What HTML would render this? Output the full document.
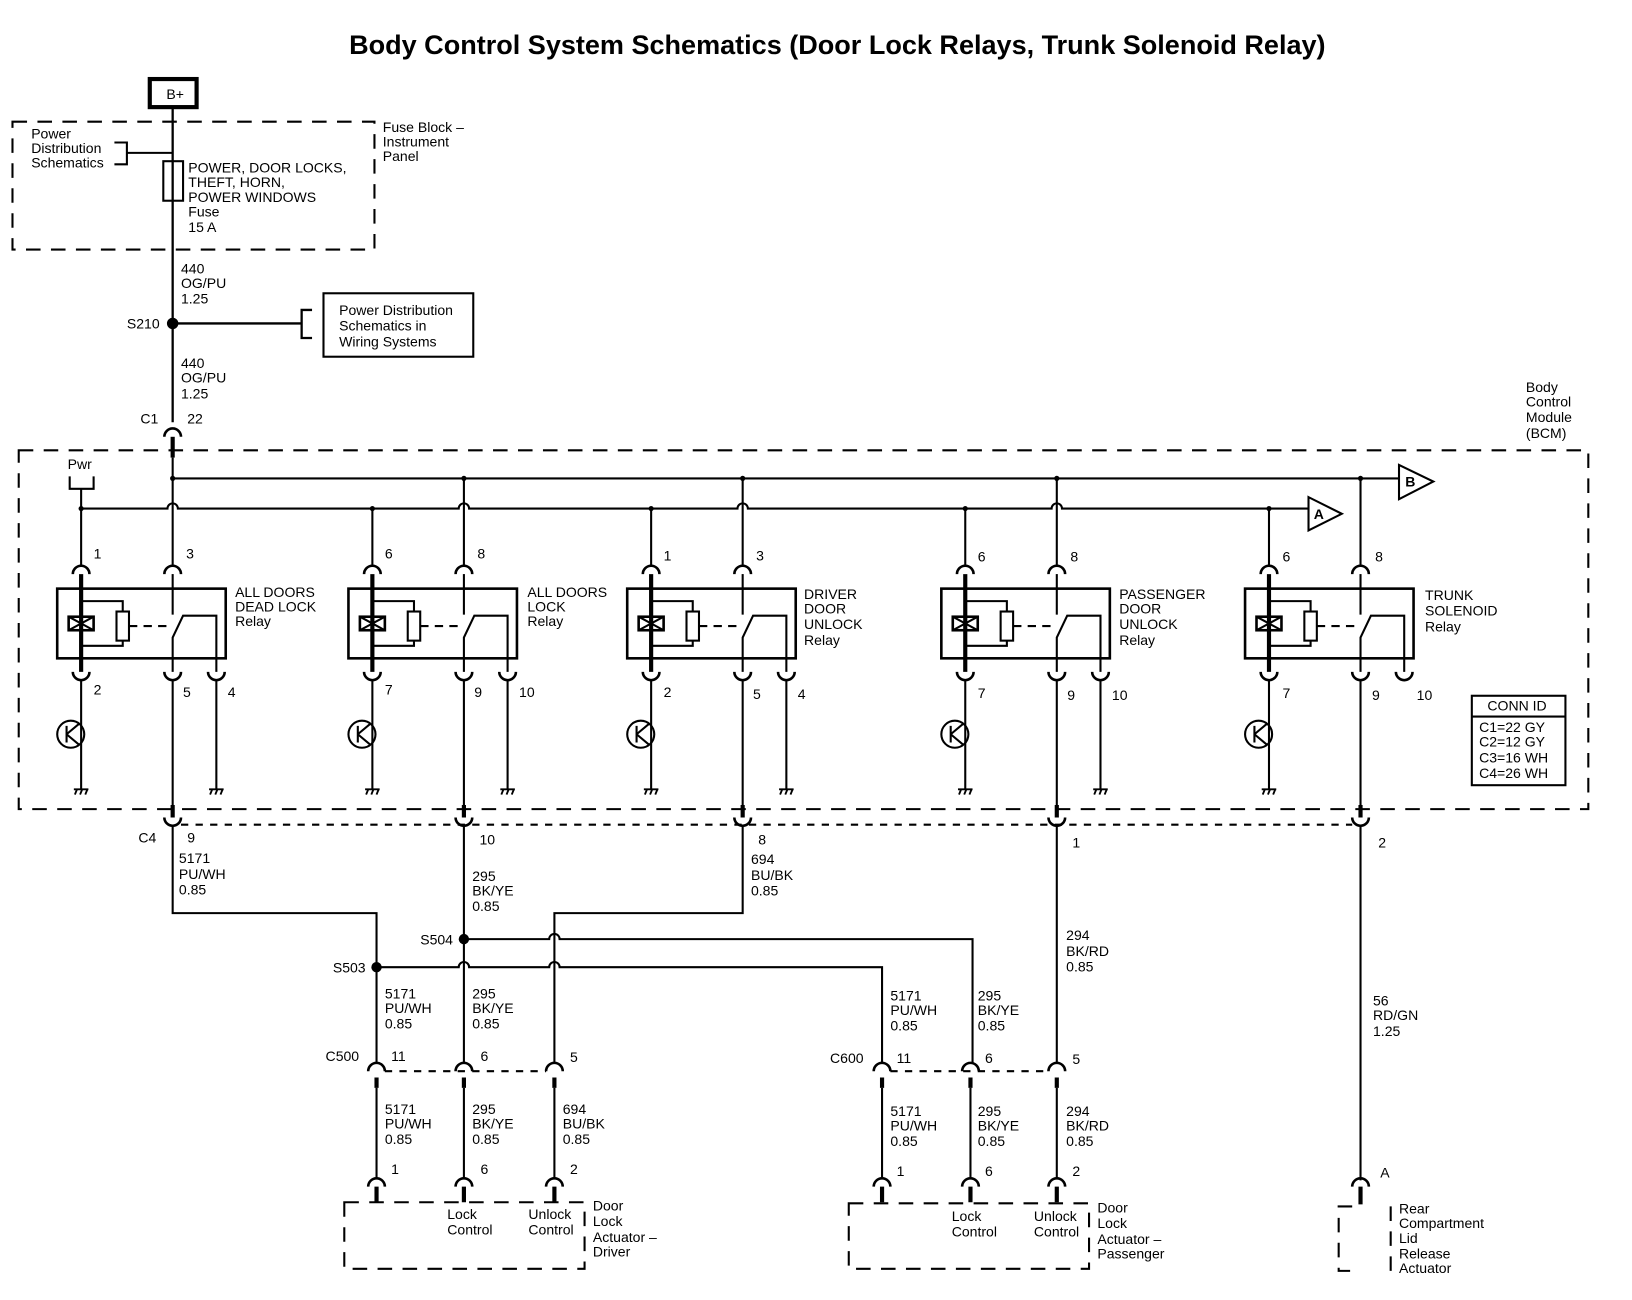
<!DOCTYPE html>
<html><head><meta charset="utf-8"><style>
html,body{margin:0;padding:0;background:#fff;}
svg{display:block;}
text{font-family:"Liberation Sans",Arial,sans-serif;font-size:13.5px;fill:#000;}
.t{font-size:13.5px;}
</style></head><body>
<svg width="1632" height="1300" viewBox="0 0 1569 1250" preserveAspectRatio="none" xmlns="http://www.w3.org/2000/svg">
<defs>
<g id="relay" fill="none" stroke="#000">
  <rect x="-23" y="0" width="162" height="67" stroke-width="2.5"/>
  <path d="M-8 -14 A8 8 0 0 1 8 -14" stroke-width="2.5"/>
  <path d="M80 -14 A8 8 0 0 1 96 -14" stroke-width="2.5"/>
  <line x1="0" y1="-14" x2="0" y2="80" stroke-width="4"/>
  <path d="M0 12 H40 V22 M0 55 H40 V50" stroke-width="2"/>
  <rect x="34" y="22" width="12" height="28" stroke-width="2"/>
  <rect x="-12" y="27" width="24" height="13" stroke-width="2.5"/>
  <path d="M-12 27 L12 40 M-12 40 L12 27" stroke-width="2"/>
  <line x1="46" y1="36" x2="82" y2="36" stroke-width="2" stroke-dasharray="8,6"/>
  <path d="M88 -14 V25" stroke-width="2"/>
  <path d="M88 80 V47 L98 26 H130 V80" stroke-width="2"/>
  <path d="M-8 80 A8 8 0 0 0 8 80" stroke-width="2.5"/>
  <path d="M80 80 A8 8 0 0 0 96 80" stroke-width="2.5"/>
  <path d="M122 80 A8 8 0 0 0 138 80" stroke-width="2.5"/>
  <line x1="0" y1="88" x2="0" y2="193" stroke-width="2"/>
  <circle cx="-10" cy="140" r="13" stroke-width="2"/>
  <path d="M-14 132 V148 M-14 140 L-2 130 M-14 140 L-2 150" stroke-width="2"/>
  <path d="M-7 193 H7 M-6 198 L-4 193 M-1 198 L1 193 M4 198 L6 193" stroke-width="1.8"/>
</g>
<g id="gnd" fill="none" stroke="#000" stroke-width="1.8">
  <path d="M-7 0 H7 M-6 5 L-4 0 M-1 5 L1 0 M4 5 L6 0"/>
</g>
</defs>

<text x="805" y="52" text-anchor="middle" style="font-size:26px;font-weight:bold">Body Control System Schematics (Door Lock Relays, Trunk Solenoid Relay)</text>

<g fill="none" stroke="#000">
<rect x="144" y="76" width="45" height="27" stroke-width="4"/>
<rect x="12" y="117" width="348" height="123" stroke-width="2" stroke-dasharray="14,10"/>
<line x1="166" y1="103" x2="166" y2="406" stroke-width="2.2"/>
<path d="M110 137 H122 V158 H110 M122 147 H166" stroke-width="2"/>
<rect x="157" y="155" width="19" height="38" stroke-width="2"/>
<circle cx="166" cy="311" r="5" fill="#000"/>
<path d="M166 311 H290 M300 298 H290 V325 H300" stroke-width="2.2"/>
<rect x="311" y="282" width="144" height="61" stroke-width="2"/>
<path d="M158 420 A8 8 0 0 1 174 420" stroke-width="2.5"/>
<line x1="166" y1="420" x2="166" y2="440" stroke-width="4"/>
<rect x="18" y="433" width="1509" height="345" stroke-width="2" stroke-dasharray="14,10"/>
<path d="M67 458 V470 H90 V458 M78 470 V544" stroke-width="2"/>
<line x1="166" y1="460" x2="1345" y2="460" stroke-width="2"/>
<polygon points="1345,447 1378,463 1345,480" stroke-width="2"/>
<path d="M78 489 H161 A5 5 0 0 1 171 489 H441 A5 5 0 0 1 451 489 H709 A5 5 0 0 1 719 489 H1011 A5 5 0 0 1 1021 489 H1258" stroke-width="2"/>
<polygon points="1258,478 1290,494 1258,510" stroke-width="2"/>
<path d="M166 440 V544 M446 460 V544 M714 460 V544 M1016 460 V544 M1308 460 V544" stroke-width="2"/>
<path d="M358 489 V544 M626 489 V544 M928 489 V544 M1220 489 V544" stroke-width="2"/>
</g>
<g fill="#000">
<circle cx="166" cy="460" r="2.5"/><circle cx="446" cy="460" r="2.5"/><circle cx="714" cy="460" r="2.5"/><circle cx="1016" cy="460" r="2.5"/><circle cx="1308" cy="460" r="2.5"/>
<circle cx="78" cy="489" r="2.5"/><circle cx="358" cy="489" r="2.5"/><circle cx="626" cy="489" r="2.5"/><circle cx="928" cy="489" r="2.5"/><circle cx="1220" cy="489" r="2.5"/>
</g>

<use href="#relay" x="78" y="566"/>
<use href="#relay" x="358" y="566"/>
<use href="#relay" x="626" y="566"/>
<use href="#relay" x="928" y="566"/>
<use href="#relay" x="1220" y="566"/>

<g fill="none" stroke="#000" stroke-width="2">
<path d="M208 654 V759 M488 654 V759 M756 654 V759 M1058 654 V759"/>
<path d="M166 654 V780 M446 654 V780 M714 654 V780 M1016 654 V780 M1308 654 V780"/>
<path d="M166 774 V786 M446 774 V786 M714 774 V786 M1016 774 V786 M1308 774 V786" stroke-width="4"/>
<path d="M158 786 A8 8 0 0 0 174 786 M438 786 A8 8 0 0 0 454 786 M706 786 A8 8 0 0 0 722 786 M1008 786 A8 8 0 0 0 1024 786 M1300 786 A8 8 0 0 0 1316 786" stroke-width="2.5"/>
<line x1="174" y1="793" x2="1300" y2="793" stroke-dasharray="7,7"/>
<path d="M166 794 V878 H362 V1022"/>
<path d="M446 794 V1022"/>
<path d="M714 794 V878 H533 V1022"/>
<path d="M446 903 H528 A5 5 0 0 1 538 903 H935 V1022"/>
<path d="M362 930 H441 A5 5 0 0 1 451 930 H528 A5 5 0 0 1 538 930 H848 V1022"/>
<path d="M1016 794 V1022"/>
<path d="M1308 794 V1135"/>
<path d="M354 1030 A8 8 0 0 1 370 1030 M438 1030 A8 8 0 0 1 454 1030 M525 1030 A8 8 0 0 1 541 1030 M840 1030 A8 8 0 0 1 856 1030 M925 1030 A8 8 0 0 1 941 1030 M1008 1030 A8 8 0 0 1 1024 1030" stroke-width="2.5"/>
<line x1="370" y1="1030" x2="525" y2="1030" stroke-dasharray="7,7"/>
<line x1="856" y1="1030" x2="1008" y2="1030" stroke-dasharray="7,7"/>
<path d="M362 1036 V1046 M446 1036 V1046 M533 1036 V1046 M848 1036 V1046 M933 1036 V1046 M1016 1036 V1046" stroke-width="4"/>
<path d="M362 1046 V1133 M446 1046 V1133 M533 1046 V1133 M848 1046 V1133 M933 1046 V1133 M1016 1046 V1133"/>
<path d="M354 1141 A8 8 0 0 1 370 1141 M438 1141 A8 8 0 0 1 454 1141 M525 1141 A8 8 0 0 1 541 1141 M840 1141 A8 8 0 0 1 856 1141 M925 1141 A8 8 0 0 1 941 1141 M1008 1141 A8 8 0 0 1 1024 1141 M1300 1141 A8 8 0 0 1 1316 1141" stroke-width="2.5"/>
<path d="M362 1141 V1156 M446 1141 V1156 M533 1141 V1156 M848 1141 V1156 M933 1141 V1156 M1016 1141 V1156 M1308 1141 V1158" stroke-width="4"/>
<rect x="331" y="1156" width="231" height="64" stroke-width="2" stroke-dasharray="14,10"/>
<rect x="816" y="1157" width="231" height="63" stroke-width="2" stroke-dasharray="14,10"/>
<path d="M1300 1160 H1287 V1222 H1300 M1337 1160 V1222" stroke-width="2" stroke-dasharray="14,10"/>
<rect x="1415" y="669" width="90" height="86" stroke-width="2"/>
<line x1="1415" y1="689" x2="1505" y2="689" stroke-width="2"/>
</g>
<g fill="#000">
<circle cx="362" cy="930" r="5"/><circle cx="446" cy="903" r="5"/>
</g>

<g class="t">
<text x="160" y="95">B+</text>
<text x="30" y="133">Power</text><text x="30" y="147">Distribution</text><text x="30" y="161">Schematics</text>
<text x="368" y="127">Fuse Block –</text><text x="368" y="141">Instrument</text><text x="368" y="155">Panel</text>
<text x="181" y="166">POWER, DOOR LOCKS,</text><text x="181" y="180">THEFT, HORN,</text><text x="181" y="194">POWER WINDOWS</text><text x="181" y="208">Fuse</text><text x="181" y="223">15 A</text>
<text x="174" y="263">440</text><text x="174" y="277">OG/PU</text><text x="174" y="292">1.25</text>
<text x="122" y="316">S210</text>
<text x="326" y="303">Power Distribution</text><text x="326" y="318">Schematics in</text><text x="326" y="333">Wiring Systems</text>
<text x="174" y="354">440</text><text x="174" y="368">OG/PU</text><text x="174" y="383">1.25</text>
<text x="135" y="407">C1</text><text x="180" y="407">22</text>
<text x="1467" y="377">Body</text><text x="1467" y="391">Control</text><text x="1467" y="406">Module</text><text x="1467" y="421">(BCM)</text>
<text x="65" y="451">Pwr</text>
<text x="1351" y="468" style="font-weight:bold">B</text>
<text x="1263" y="499" style="font-weight:bold">A</text>

<text x="90" y="537">1</text><text x="179" y="537">3</text><text x="90" y="668">2</text><text x="176" y="670">5</text><text x="219" y="670">4</text>
<text x="226" y="574">ALL DOORS</text><text x="226" y="588">DEAD LOCK</text><text x="226" y="602">Relay</text>
<text x="370" y="537">6</text><text x="459" y="537">8</text><text x="370" y="668">7</text><text x="456" y="670">9</text><text x="499" y="670">10</text>
<text x="507" y="574">ALL DOORS</text><text x="507" y="588">LOCK</text><text x="507" y="602">Relay</text>
<text x="638" y="539">1</text><text x="727" y="539">3</text><text x="638" y="670">2</text><text x="724" y="672">5</text><text x="767" y="672">4</text>
<text x="773" y="576">DRIVER</text><text x="773" y="590">DOOR</text><text x="773" y="605">UNLOCK</text><text x="773" y="620">Relay</text>
<text x="940" y="540">6</text><text x="1029" y="540">8</text><text x="940" y="671">7</text><text x="1026" y="673">9</text><text x="1069" y="673">10</text>
<text x="1076" y="576">PASSENGER</text><text x="1076" y="590">DOOR</text><text x="1076" y="605">UNLOCK</text><text x="1076" y="620">Relay</text>
<text x="1233" y="540">6</text><text x="1322" y="540">8</text><text x="1233" y="671">7</text><text x="1319" y="673">9</text><text x="1362" y="673">10</text>
<text x="1370" y="577">TRUNK</text><text x="1370" y="592">SOLENOID</text><text x="1370" y="607">Relay</text>

<text x="1430" y="683">CONN ID</text>
<text x="1422" y="704">C1=22 GY</text><text x="1422" y="718">C2=12 GY</text><text x="1422" y="733">C3=16 WH</text><text x="1422" y="748">C4=26 WH</text>

<text x="133" y="810">C4</text><text x="180" y="810">9</text><text x="461" y="812">10</text><text x="729" y="812">8</text><text x="1031" y="815">1</text><text x="1325" y="815">2</text>
<text x="172" y="830">5171</text><text x="172" y="845">PU/WH</text><text x="172" y="860">0.85</text>
<text x="454" y="847">295</text><text x="454" y="861">BK/YE</text><text x="454" y="876">0.85</text>
<text x="722" y="831">694</text><text x="722" y="846">BU/BK</text><text x="722" y="861">0.85</text>
<text x="404" y="908">S504</text><text x="320" y="935">S503</text>
<text x="1025" y="904">294</text><text x="1025" y="919">BK/RD</text><text x="1025" y="934">0.85</text>
<text x="370" y="960">5171</text><text x="370" y="974">PU/WH</text><text x="370" y="989">0.85</text>
<text x="454" y="960">295</text><text x="454" y="974">BK/YE</text><text x="454" y="989">0.85</text>
<text x="856" y="962">5171</text><text x="856" y="976">PU/WH</text><text x="856" y="991">0.85</text>
<text x="940" y="962">295</text><text x="940" y="976">BK/YE</text><text x="940" y="991">0.85</text>
<text x="1320" y="967">56</text><text x="1320" y="981">RD/GN</text><text x="1320" y="996">1.25</text>
<text x="313" y="1020">C500</text><text x="376" y="1020">11</text><text x="462" y="1020">6</text><text x="548" y="1021">5</text>
<text x="798" y="1022">C600</text><text x="862" y="1022">11</text><text x="947" y="1022">6</text><text x="1031" y="1023">5</text>
<text x="370" y="1071">5171</text><text x="370" y="1085">PU/WH</text><text x="370" y="1100">0.85</text>
<text x="454" y="1071">295</text><text x="454" y="1085">BK/YE</text><text x="454" y="1100">0.85</text>
<text x="541" y="1071">694</text><text x="541" y="1085">BU/BK</text><text x="541" y="1100">0.85</text>
<text x="856" y="1073">5171</text><text x="856" y="1087">PU/WH</text><text x="856" y="1102">0.85</text>
<text x="940" y="1073">295</text><text x="940" y="1087">BK/YE</text><text x="940" y="1102">0.85</text>
<text x="1025" y="1073">294</text><text x="1025" y="1087">BK/RD</text><text x="1025" y="1102">0.85</text>
<text x="376" y="1129">1</text><text x="462" y="1129">6</text><text x="548" y="1129">2</text>
<text x="862" y="1131">1</text><text x="947" y="1131">6</text><text x="1031" y="1131">2</text>
<text x="1327" y="1132">A</text>
<text x="430" y="1172">Lock</text><text x="430" y="1187">Control</text>
<text x="508" y="1172">Unlock</text><text x="508" y="1187">Control</text>
<text x="570" y="1164">Door</text><text x="570" y="1179">Lock</text><text x="570" y="1194">Actuator –</text><text x="570" y="1208">Driver</text>
<text x="915" y="1174">Lock</text><text x="915" y="1189">Control</text>
<text x="994" y="1174">Unlock</text><text x="994" y="1189">Control</text>
<text x="1055" y="1166">Door</text><text x="1055" y="1181">Lock</text><text x="1055" y="1196">Actuator –</text><text x="1055" y="1210">Passenger</text>
<text x="1345" y="1167">Rear</text><text x="1345" y="1181">Compartment</text><text x="1345" y="1195">Lid</text><text x="1345" y="1210">Release</text><text x="1345" y="1224">Actuator</text>
</g>
<use href="#gnd" x="208" y="759"/><use href="#gnd" x="488" y="759"/><use href="#gnd" x="756" y="759"/><use href="#gnd" x="1058" y="759"/>
</svg>
</body></html>
